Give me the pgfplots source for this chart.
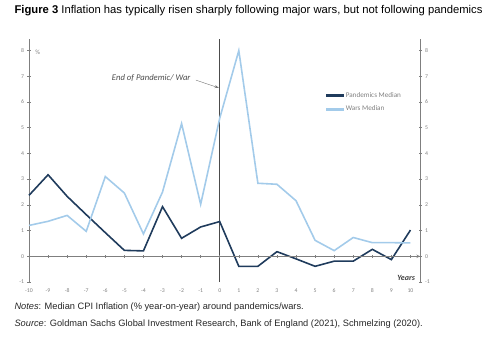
\documentclass[border=0pt]{standalone}
\usepackage{fontspec}
\setmainfont{Liberation Sans}
\newfontfamily\calib{Carlito}
\usepackage{pgfplots}
\pgfplotsset{compat=1.18}
\usetikzlibrary{arrows.meta}
\definecolor{navy}{HTML}{1F3B5C}
\definecolor{lblue}{HTML}{A3CBEA}
\definecolor{tickgray}{HTML}{808080}
\definecolor{axgray}{HTML}{7F7F7F}
\begin{document}
\begin{tikzpicture}
\useasboundingbox (-29bp,-69bp) rectangle (471bp,282bp);
\pgfplotsset{
  common/.style={
    at={(0,0)}, anchor=south west,
    scale only axis, width=391bp, height=243bp,
    xmin=-10, xmax=10.5, ymin=-1, ymax=8.45,
    tick label style={font=\calib\fontsize{5.8}{6}\selectfont, text=tickgray},
    /pgf/number format/assume math mode=true,
    axis line style={draw=axgray, line width=0.6pt, -},
    tick style={draw=axgray, line width=0.5pt},
    major tick length=3bp,
  }
}
% main axis with data, left y axis, bottom tick labels
\begin{axis}[common,
  axis y line*=left, axis x line*=bottom,
  x axis line style={draw=none},
  xtick={-10,...,10}, xtick style={draw=none},
  ytick={-1,...,8}, ytick align=center,
  xticklabel style={yshift=-3.5bp},
  legend style={at={(rel axis cs:0.76,0.79)}, anchor=north west, draw=none, fill=none,
    font=\calib\fontsize{7.2}{8}\selectfont, text=tickgray, row sep=3bp,
    inner sep=0pt},
  legend cell align=left,
  clip=false,
]
\addlegendimage{legend image code/.code={\fill[navy] (0bp,-0.95bp) rectangle (17bp,0.95bp);}}
\addlegendentry{Pandemics Median}
\addlegendimage{legend image code/.code={\fill[lblue] (0bp,-0.95bp) rectangle (17bp,0.95bp);}}
\addlegendentry{Wars Median}
\draw[black!70, line width=0.5pt] (axis cs:0,-1) -- (axis cs:0,8.45);
\addplot[navy, line width=1.6pt, forget plot] coordinates {
(-10,2.37) (-9,3.17) (-8,2.33) (-7,1.62) (-6,0.92) (-5,0.23) (-4,0.21) (-3,1.93) (-2,0.70) (-1,1.14) (0,1.35)
(1,-0.39) (2,-0.39) (3,0.18) (4,-0.10) (5,-0.39) (6,-0.19) (7,-0.19) (8,0.27) (9,-0.13) (10,1.02)};
\addplot[lblue, line width=1.6pt, forget plot] coordinates {
(-10,1.20) (-9,1.36) (-8,1.59) (-7,0.97) (-6,3.10) (-5,2.46) (-4,0.87) (-3,2.50) (-2,5.16) (-1,2.02) (0,5.37)
(1,8.00) (2,2.84) (3,2.80) (4,2.16) (5,0.62) (6,0.22) (7,0.73) (8,0.53) (9,0.53) (10,0.52)};
\node[anchor=east, font=\calib\itshape\fontsize{8.7}{9}\selectfont, text=black!70] at (axis cs:-1.35,6.95) {End of Pandemic/ War};
\draw[-{Stealth[length=4bp,width=3bp]}, black!55, line width=0.4pt] (axis cs:-1.25,6.85) -- (axis cs:-0.05,6.55);
\node[anchor=west, font=\calib\fontsize{6.5}{7}\selectfont, text=tickgray] at (axis cs:-9.85,7.92) {\%};
\node[anchor=east, font=\calib\bfseries\itshape\fontsize{8}{9}\selectfont, text=black!75] at (axis cs:10.42,-0.86) {Years};
\end{axis}
% right y axis
\begin{axis}[common,
  axis y line*=right, axis x line=none,
  ytick={-1,...,8}, ytick align=center,
]
\end{axis}
% zero line with ticks
\begin{axis}[common,
  axis x line=middle, axis y line=none,
  xtick={-10,...,10}, xticklabels={}, xtick align=center,
]
\end{axis}
\node[anchor=west, font=\fontsize{11.3}{13}\selectfont] at (-18bp,271bp) {\textbf{Figure 3} Inflation has typically risen sharply following major wars, but not following pandemics};
\node[anchor=west, font=\fontsize{9.3}{11}\selectfont, text=black!85] at (-18bp,-25bp) {\textit{Notes}: Median CPI Inflation (\% year-on-year) around pandemics/wars.};
\node[anchor=west, font=\fontsize{9.3}{11}\selectfont, text=black!85] at (-18bp,-42bp) {\textit{Source}: Goldman Sachs Global Investment Research, Bank of England (2021), Schmelzing (2020).};
\end{tikzpicture}
\end{document}
